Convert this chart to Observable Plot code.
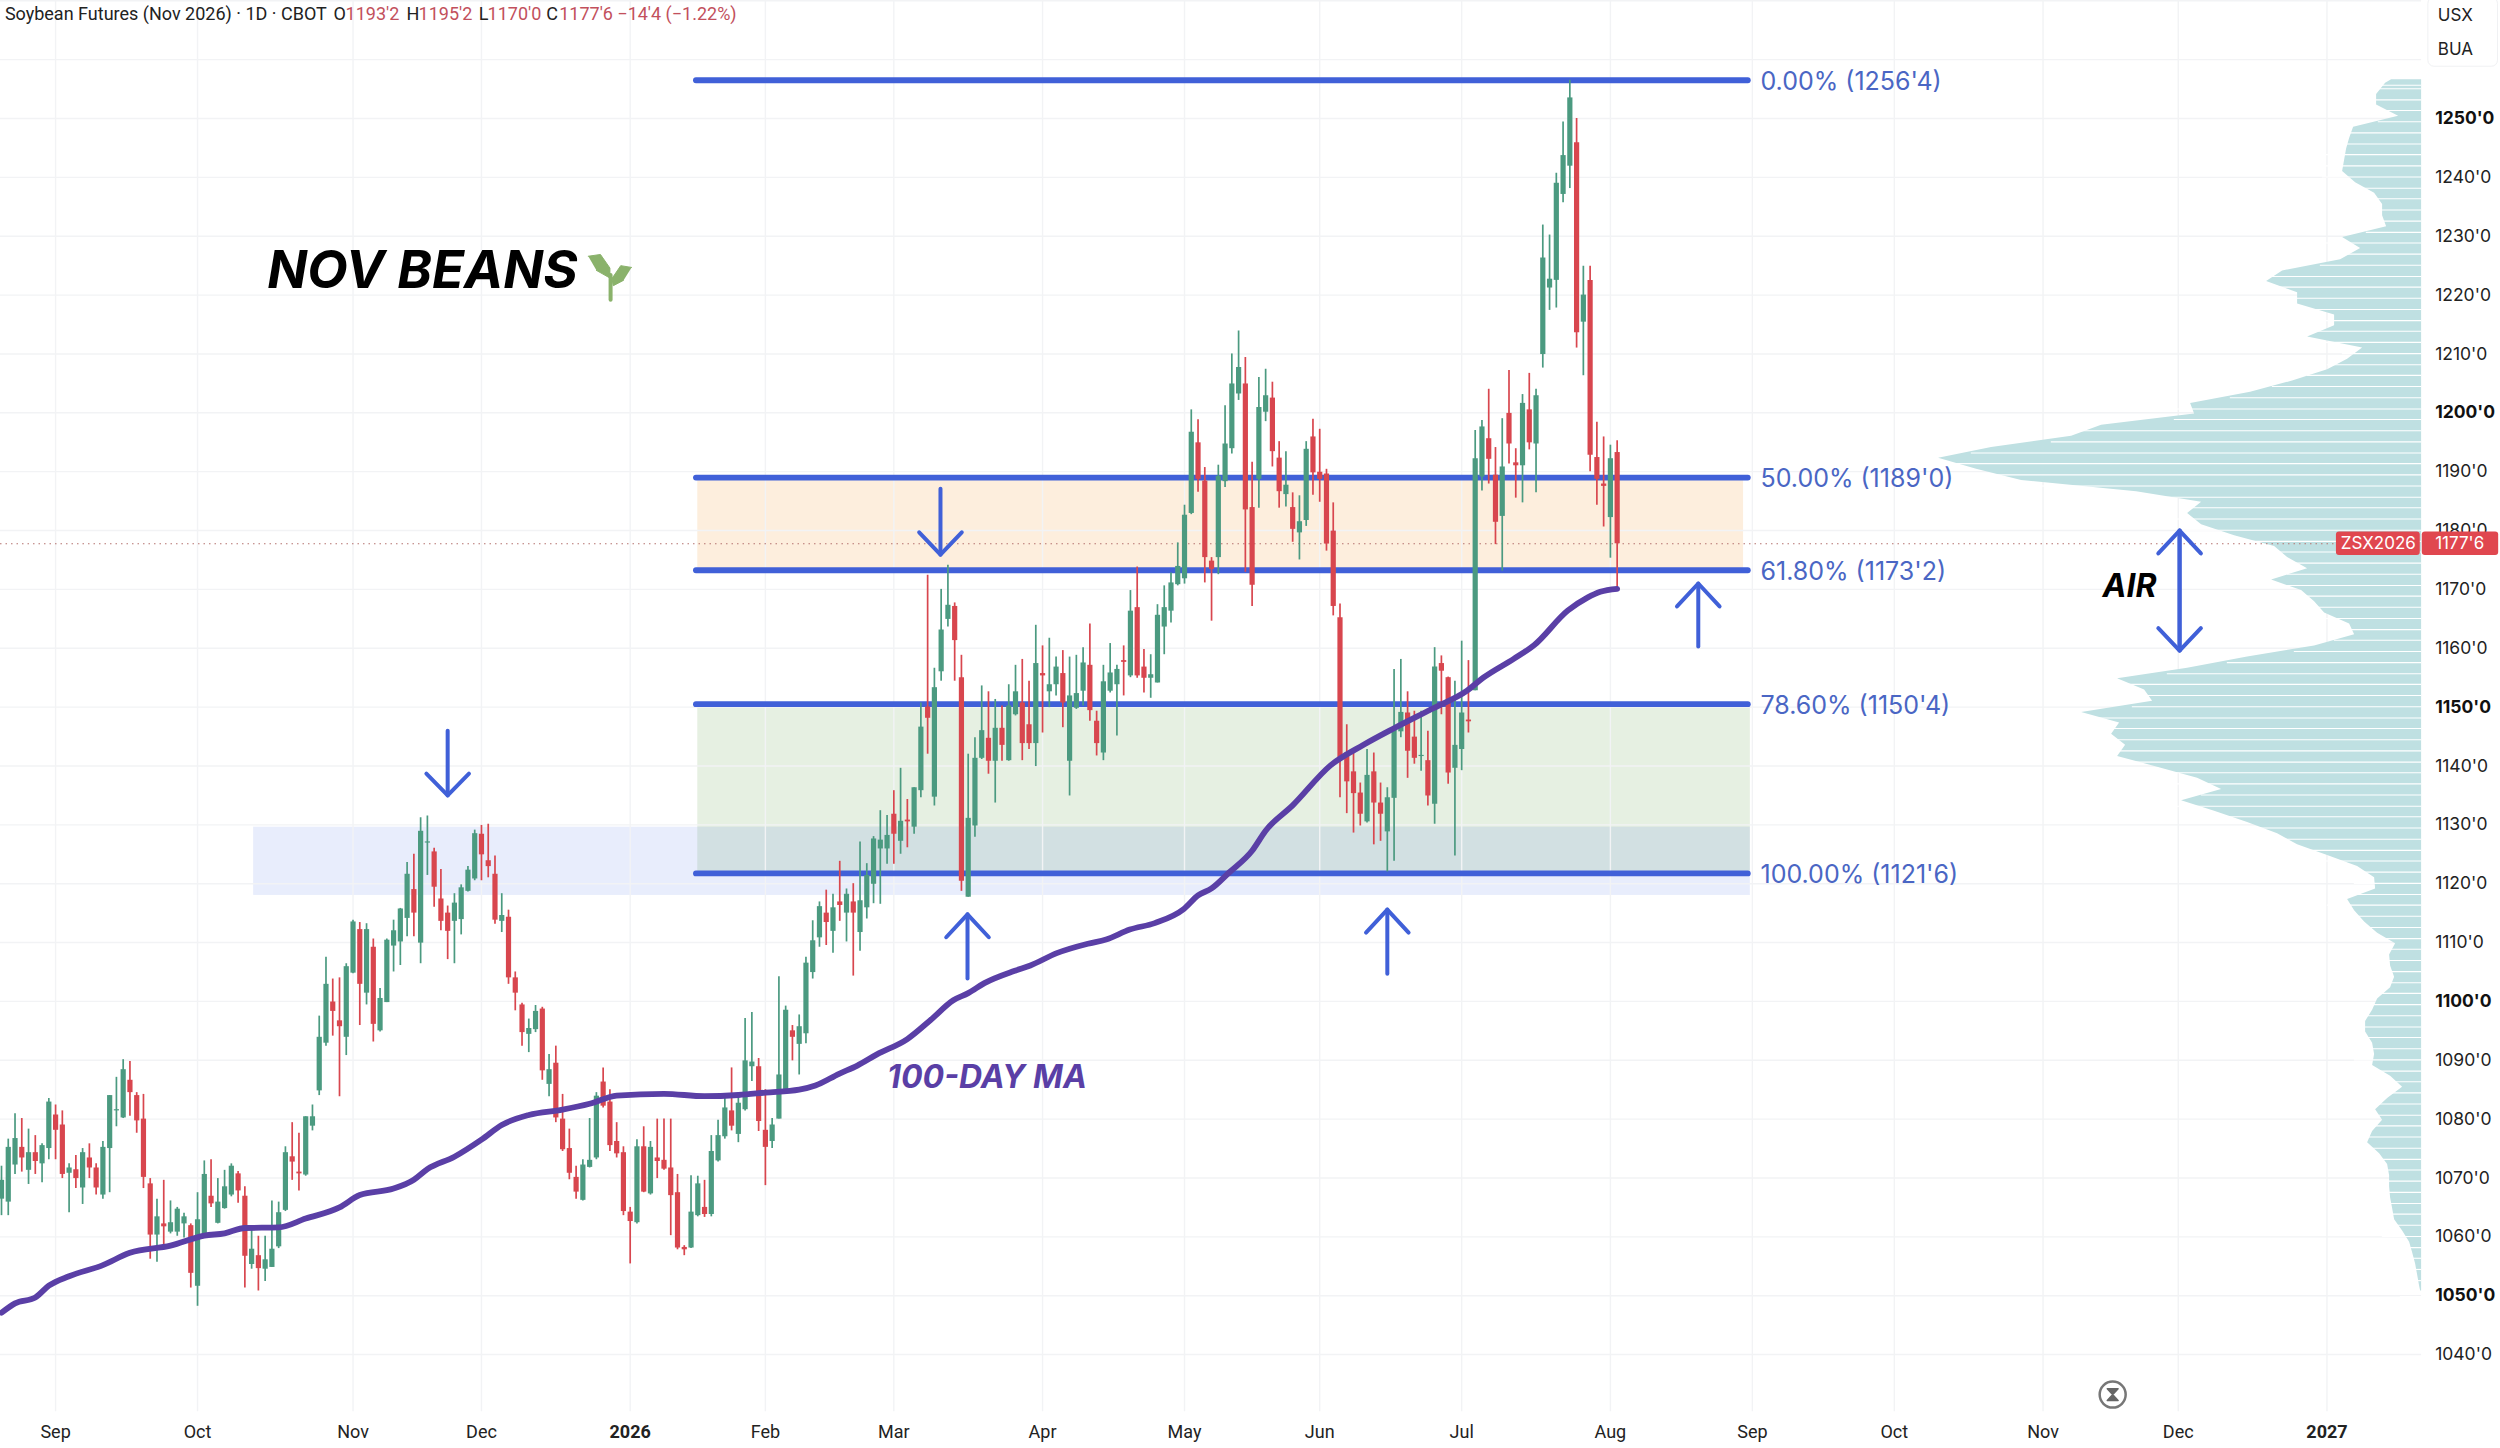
<!DOCTYPE html>
<html><head><meta charset="utf-8">
<script src="https://cdn.jsdelivr.net/npm/d3@7"></script>
<script src="https://cdn.jsdelivr.net/npm/@observablehq/plot@0.6"></script>
<style>html,body{margin:0;padding:0;background:#fff}svg{display:block}</style>
</head><body><div id="chart"></div>
<script>
// ---- candles (daily bars of Soybean Futures Nov 2026), oldest first ----
const direction =
 "GGGRGRGGRR"+"GRGRRGGGGR"+"RRRGRGGGRG"+"GRGGGRRGRG"+"GGGRRGGGGR"+
 "RGGRGRGGGG"+"GRGGRRRGGG"+"GRRRGRRRGG"+"RGRRRRGGGR"+"RRRRGRGRRR"+
 "RRGGRGGGRG"+"GGRRGGGRGG"+"GGRGRGRGGG"+"GGRGRGGRGG"+"GRRGGGRGRG"+
 "GRRGRGGRGG"+"GRRGGGRGRR"+"GGGGGGGRRR"+"GGGGRRGGRR"+"GRGGRRRRRR"+
 "RRGRRGGGRR"+"GRGRRGGRGG"+"RRGRRGRGGG"+"GGGRGRRRGR";
const bodyTops = [
1069.6,1075.2,1076.7,1075.2,1074.3,1074.3,1075.5,1082.9,1080.7,1079.0,
1071.7,1071.4,1074.3,1073.4,1071.7,1075.2,1084.0,1081.6,1088.4,1086.6,
1084.0,1080.0,1069.0,1063.4,1062.2,1062.4,1064.7,1063.4,1061.9,1062.9,
1070.6,1066.9,1065.9,1068.5,1072.0,1070.7,1066.9,1057.9,1056.8,1056.1,
1057.9,1064.1,1074.3,1073.6,1071.0,1080.4,1080.4,1093.9,1102.9,1099.9,
1096.7,1105.9,1113.5,1112.2,1112.2,1109.2,1100.5,1110.4,1112.0,1115.7,
1121.6,1119.0,1128.9,1127.1,1125.4,1117.4,1115.0,1116.7,1119.3,1122.3,
1128.5,1128.4,1123.9,1121.6,1114.6,1114.3,1104.0,1099.4,1095.4,1098.3,
1098.7,1088.4,1089.5,1080.0,1075.0,1070.1,1072.2,1073.0,1083.9,1086.3,
1082.9,1076.2,1074.3,1064.2,1075.3,1075.3,1075.2,1073.4,1073.0,1071.7,
1067.5,1058.2,1064.2,1069.0,1065.0,1074.5,1077.2,1081.9,1081.4,1082.7,
1089.9,1089.7,1088.9,1078.1,1079.0,1087.5,1098.5,1095.0,1095.7,1106.5,
1110.3,1116.1,1115.0,1115.9,1116.9,1118.2,1116.9,1117.1,1121.4,1127.6,
1127.4,1128.2,1131.8,1130.6,1130.8,1136.3,1146.6,1150.0,1153.3,1163.1,
1167.3,1167.1,1155.0,1131.1,1141.3,1146.0,1144.7,1146.4,1146.4,1150.2,
1152.6,1150.7,1147.0,1157.4,1155.7,1153.8,1156.8,1155.7,1151.9,1152.3,
1157.5,1157.1,1147.6,1154.3,1155.8,1156.4,1157.9,1166.3,1166.9,1156.8,
1155.5,1165.6,1166.9,1171.1,1173.9,1182.6,1196.7,1194.9,1188.4,1174.8,
1189.2,1194.7,1204.9,1207.7,1204.9,1183.9,1200.9,1202.9,1202.5,1192.3,
1187.7,1183.9,1181.5,1193.8,1195.9,1189.9,1189.6,1179.9,1165.2,1142.2,
1139.0,1135.4,1138.4,1139.0,1133.7,1134.6,1146.5,1149.1,1149.0,1144.9,
1141.8,1140.9,1156.8,1157.4,1155.0,1143.5,1149.0,1147.8,1192.2,1197.6,
1195.6,1189.4,1190.8,1199.9,1191.5,1201.6,1200.5,1202.9,1226.3,1222.7,
1239.0,1243.7,1253.5,1245.9,1220.0,1222.5,1192.4,1187.9,1192.2,1193.25];
const bodyBottoms = [
1066.4,1065.9,1072.2,1073.4,1071.3,1072.8,1072.4,1075.0,1078.1,1070.6,
1070.8,1069.9,1068.3,1071.7,1068.3,1067.1,1075.0,1081.4,1080.2,1084.5,
1079.7,1070.1,1060.3,1060.3,1061.7,1060.8,1060.8,1062.2,1053.8,1051.6,
1059.9,1065.6,1062.3,1064.8,1067.1,1067.8,1056.7,1055.3,1054.6,1054.5,
1054.8,1058.3,1064.5,1072.7,1070.7,1070.5,1078.8,1084.8,1092.9,1098.3,
1095.7,1093.9,1104.8,1102.9,1101.4,1096.1,1095.0,1099.8,1109.4,1110.1,
1114.1,1115.0,1109.9,1126.9,1119.4,1113.6,1111.9,1113.6,1113.9,1118.7,
1120.8,1124.9,1122.9,1113.8,1113.6,1104.0,1101.4,1094.7,1094.4,1095.2,
1088.2,1085.9,1080.2,1074.8,1070.8,1067.6,1066.2,1071.8,1073.4,1082.2,
1075.5,1074.1,1064.3,1062.6,1062.4,1067.6,1067.3,1072.8,1071.5,1067.0,
1058.1,1057.8,1058.1,1063.6,1063.8,1063.8,1072.9,1077.0,1078.8,1077.4,
1081.6,1088.9,1079.6,1075.2,1076.2,1080.0,1085.0,1093.9,1092.7,1094.5,
1104.9,1110.8,1113.4,1111.9,1116.3,1115.0,1115.0,1111.7,1115.9,1119.9,
1125.9,1125.9,1128.4,1127.2,1130.5,1129.6,1135.8,1148.1,1134.7,1156.0,
1164.9,1161.3,1120.4,1117.7,1129.8,1141.3,1140.8,1140.8,1143.5,1140.9,
1148.7,1143.8,1143.8,1143.8,1155.3,1152.6,1153.8,1150.7,1140.8,1149.8,
1152.7,1149.4,1143.8,1142.2,1152.7,1153.8,1157.6,1155.3,1155.3,1154.9,
1154.9,1154.1,1163.6,1166.3,1170.8,1171.8,1182.9,1188.7,1175.4,1173.4,
1175.4,1188.3,1193.9,1203.2,1183.5,1170.7,1188.7,1200.1,1193.4,1186.6,
1186.1,1180.2,1179.6,1181.7,1189.8,1188.7,1177.7,1167.1,1141.4,1137.3,
1135.3,1131.8,1130.5,1133.7,1131.8,1128.8,1134.5,1145.8,1142.5,1141.3,
1141.6,1134.9,1133.5,1156.1,1138.8,1139.6,1142.8,1147.5,1152.8,1189.1,
1192.1,1181.4,1182.4,1194.7,1191.0,1191.0,1194.9,1194.7,1209.9,1221.2,
1222.5,1237.1,1241.9,1213.6,1215.4,1192.8,1188.7,1187.5,1182.2,1177.75];
const highs = [
1072.0,1076.6,1080.9,1080.1,1078.3,1077.2,1075.8,1083.5,1082.4,1081.4,
1072.4,1073.8,1075.0,1075.8,1072.4,1076.2,1084.0,1087.1,1090.1,1089.8,
1084.5,1084.2,1069.9,1066.4,1069.6,1066.1,1065.0,1064.0,1062.2,1067.5,
1072.9,1073.1,1069.9,1071.3,1072.4,1071.1,1068.5,1061.9,1060.1,1060.1,
1066.1,1065.9,1075.3,1079.4,1077.6,1080.4,1082.4,1097.5,1107.5,1103.8,
1104.0,1106.4,1113.8,1113.4,1113.2,1110.6,1102.2,1110.6,1113.8,1115.8,
1123.6,1125.0,1131.2,1131.5,1126.0,1122.4,1116.2,1118.3,1119.8,1122.9,
1129.1,1129.9,1130.1,1124.7,1118.3,1115.5,1105.0,1099.7,1097.0,1099.3,
1099.0,1091.0,1092.4,1084.2,1078.3,1072.0,1073.1,1080.1,1084.5,1088.7,
1085.0,1079.4,1075.3,1065.0,1076.5,1078.7,1076.2,1080.0,1080.0,1080.0,
1070.6,1058.5,1070.4,1070.3,1069.6,1077.2,1079.8,1084.0,1088.7,1084.5,
1097.1,1098.1,1090.3,1085.0,1080.1,1104.2,1099.2,1095.9,1097.7,1107.5,
1113.7,1116.9,1118.9,1118.2,1123.8,1119.1,1120.0,1127.1,1123.4,1128.0,
1132.4,1131.6,1135.8,1139.6,1134.3,1136.3,1150.7,1172.4,1156.6,1170.0,
1174.1,1167.7,1158.8,1142.0,1144.8,1153.6,1152.6,1151.3,1150.2,1153.8,
1157.1,1158.1,1154.4,1163.9,1160.4,1161.7,1158.5,1159.6,1158.5,1158.8,
1160.1,1164.1,1149.3,1157.1,1160.8,1157.1,1160.4,1169.8,1173.8,1159.8,
1158.9,1167.4,1170.6,1172.8,1177.9,1184.3,1200.5,1198.8,1190.7,1175.4,
1191.1,1201.2,1210.0,1213.9,1209.4,1191.6,1206.0,1207.4,1205.2,1195.1,
1193.4,1186.4,1185.9,1195.1,1198.9,1197.2,1190.4,1184.7,1167.5,1147.0,
1142.8,1137.1,1142.8,1142.2,1137.1,1136.3,1156.4,1158.1,1152.6,1149.3,
1149.3,1145.9,1160.1,1158.7,1155.1,1154.4,1161.2,1157.9,1197.0,1198.7,
1204.0,1194.1,1199.0,1207.2,1193.9,1203.1,1206.7,1204.0,1231.9,1230.2,
1240.7,1249.4,1256.5,1250.0,1224.9,1224.9,1198.4,1195.9,1194.5,1195.25];
const lows = [
1063.6,1063.6,1070.6,1071.0,1068.9,1070.6,1069.2,1073.1,1073.1,1069.9,
1064.1,1068.2,1065.5,1069.9,1067.1,1066.4,1067.5,1078.7,1080.1,1080.5,
1077.6,1068.2,1056.2,1055.7,1058.7,1060.5,1060.1,1059.8,1051.3,1048.2,
1059.8,1065.0,1062.2,1064.7,1066.8,1065.7,1051.3,1054.5,1050.8,1052.4,
1054.8,1058.0,1064.3,1069.6,1067.8,1070.3,1078.0,1084.0,1092.4,1094.1,
1083.8,1090.8,1104.7,1095.9,1099.4,1093.1,1094.8,1099.8,1105.0,1106.1,
1111.0,1111.0,1106.4,1121.4,1116.0,1112.0,1107.1,1106.4,1111.3,1118.6,
1120.5,1120.5,1121.0,1113.1,1111.7,1102.9,1098.4,1092.4,1091.3,1094.7,
1086.6,1083.8,1079.4,1074.5,1069.7,1066.4,1066.1,1071.7,1073.1,1081.9,
1074.5,1073.4,1063.6,1055.4,1062.2,1067.5,1067.1,1069.9,1071.3,1060.2,
1057.8,1056.8,1058.0,1063.4,1063.3,1063.4,1072.7,1076.6,1078.0,1076.0,
1081.4,1086.4,1077.9,1068.7,1075.0,1080.0,1084.6,1089.9,1087.5,1092.8,
1103.8,1109.2,1109.5,1108.2,1113.6,1110.1,1104.3,1108.5,1114.0,1116.6,
1116.5,1123.3,1123.3,1125.0,1126.1,1128.4,1134.6,1142.0,1133.2,1154.4,
1163.6,1154.4,1118.7,1117.7,1127.9,1141.1,1138.6,1133.7,1140.8,1140.8,
1148.5,1140.9,1142.8,1139.9,1145.6,1149.9,1151.9,1146.5,1134.9,1149.6,
1150.2,1147.6,1141.7,1140.9,1152.4,1145.1,1151.9,1155.0,1154.9,1152.4,
1151.5,1154.1,1158.9,1164.3,1170.6,1170.9,1182.7,1186.5,1171.1,1164.6,
1172.5,1187.3,1193.0,1202.1,1172.9,1167.1,1183.8,1198.5,1190.8,1183.8,
1184.0,1178.0,1175.0,1180.7,1186.0,1184.8,1176.5,1165.5,1134.6,1131.9,
1128.6,1129.8,1130.3,1126.6,1127.2,1122.0,1123.8,1144.8,1137.9,1140.3,
1139.1,1133.2,1130.1,1148.7,1136.9,1124.7,1139.2,1145.6,1152.8,1186.7,
1187.9,1177.6,1173.1,1191.3,1185.5,1184.7,1193.7,1186.4,1207.6,1217.4,
1217.8,1235.7,1238.1,1211.0,1206.3,1190.0,1184.3,1180.6,1175.3,1170.0];

// ---- 100-day moving average, read as [bar, price] ----
const maBars = [0,2,5,7,10,15,19,25,30,33,36,41,45,50,53,58,61,63,67,71,74,78,83,87,91,98,104,109,113,118,
 120.4,123.9,126.6,129.5,134,137.4,140.8,143,145.4,149.9,152.2,156.1,160.7,163.4,166.9,170.6,174.9,177,179,181.6,
 185,187,191,196.6,201.5,206,211.8,216.8,219.2,223.7,226.7,231.7,234.6,236.5,239];
const maPrices = [1047.1,1048.7,1049.7,1051.7,1053.3,1055.2,1057.3,1058.5,1060.2,1060.6,1061.5,1061.6,1063.1,1065.0,1067.1,1068.2,1069.7,1071.5,1073.6,1076.5,1079.0,1080.7,1081.6,1082.6,1084.0,1084.3,1083.9,1084.1,1084.5,1085.0,
 1085.7,1087.7,1089.1,1091.0,1093.6,1096.8,1100.2,1101.4,1103.1,1105.2,1106.1,1108.2,1109.8,1110.5,1112.2,1113.3,1115.7,1118.0,1119.2,1121.9,
 1125.6,1129.0,1133.3,1140.1,1143.6,1146.4,1149.8,1152.8,1155.0,1158.2,1160.5,1166.4,1168.6,1169.6,1170.1];

// ---- volume profile ----
const profilePrices = [1256.6,1256,1254.1,1252.3,1250.4,1248.5,1246.6,1244.8,1242.9,1241,1239.1,1237.3,1235.4,1233.5,1231.6,1229.8,1227.9,1226,1224.1,1222.3,1220.4,1218.5,1216.6,1214.8,1212.9,1211,1209.1,1207.3,1205.4,1203.5,1201.6,1199.8,1197.9,1196,1194.1,1192.3,1190.4,1188.5,1186.6,1184.8,1182.9,1181,1179.1,1177.3,1175.4,1173.5,1171.6,1169.8,1167.9,1166,1164.1,1162.3,1160.4,1158.5,1156.6,1154.8,1152.9,1151,1149.1,1147.3,1145.4,1143.5,1141.6,1139.8,1137.9,1136,1134.1,1132.3,1130.4,1128.5,1126.6,1124.8,1122.9,1121,1119.1,1117.3,1115.4,1113.5,1111.6,1109.8,1107.9,1106,1104.1,1102.3,1100.4,1098.5,1096.6,1094.8,1092.9,1091,1089.1,1087.3,1085.4,1083.5,1081.6,1079.8,1077.9,1076,1074.1,1072.3,1070.4,1068.5,1066.6,1064.8,1062.9,1061,1059.1,1057.3,1055.4,1053.5,1051.6,1050.8];
const profileVolumes = [30,36,45,45,23,68,72,75,77,79,66,47,39,39,35,79,61,81,139,155,124,124,87,87,114,59,74,94,129,171,231,227,320,350,430,483,445,400,285,220,234,220,187,147,134,114,150,120,107,97,72,67,107,174,234,304,277,269,340,302,310,296,304,264,224,200,240,207,174,144,124,94,64,47,46,74,67,57,44,26,32,31,27,31,44,49,56,56,49,47,49,31,19,34,46,39,49,54,42,34,32,32,31,29,27,19,12,9,6,4,2,1];
const volumePerBar = 6.76; // volume units per bar of width
const profileEdge = 358;

// ---- Fibonacci levels ----
const fibPrices = [1256.5,1189,1173.25,1150.5,1121.75];
const fibLabels = ["0.00% (1256'4)","50.00% (1189'0)","61.80% (1173'2)","78.60% (1150'4)","100.00% (1121'6)"];

// ---- axes ----
const monthBars = [8,29,52,71,93,113,132,154,175,195,216,238,259,280,302,322,344];
const monthLabels = ["Sep","Oct","Nov","Dec","2026","Feb","Mar","Apr","May","Jun","Jul","Aug","Sep","Oct","Nov","Dec","2027"];
const priceTicks = [1250,1240,1230,1220,1210,1200,1190,1180,1170,1160,1150,1140,1130,1120,1110,1100,1090,1080,1070,1060,1050,1040];
const priceTickLabels = priceTicks.map(p=>p+"'0");
const lastPrice = 1177.75;

// ---- arrows: [bar, tip price, tail price, wing price] ----
const arrows = [[66,1135.0,1146.0,1138.7],[138.9,1175.9,1187.1,1179.7],[142.9,1114.8,1103.9,1110.9],[205,1115.6,1104.7,1111.7],[251,1171,1160.3,1167.1],[322.2,1180,1159.6,1176.1],[322.2,1159.6,1180,1163.4]];

// ---- colours and fonts ----
const GREEN="#4b9a80", RED="#d8464e", BLUE="#4060d8", PURPLE="#5a3fa6", GRID="#f2f3f5";
const UI="Roboto, sans-serif", BOLD="Inter, sans-serif";

const bars = direction.split("").map((d,i)=>({i,d,top:bodyTops[i],bot:bodyBottoms[i],hi:highs[i],lo:lows[i]}));
const ups = bars.filter(b=>b.d==="G"), downs = bars.filter(b=>b.d==="R");
const ma = maBars.map((b,i)=>({b,p:maPrices[i]}));
const profile = profilePrices.map((p,i)=>({p,v:profileVolumes[i]}));
const fib = fibPrices.map((p,i)=>({p,label:fibLabels[i]}));
const months = monthBars.map((b,i)=>({b,label:monthLabels[i]}));
const ticks = priceTicks.map((p,i)=>({p,label:priceTickLabels[i]}));
const arrowPaths = arrows.flatMap(([b,tip,tail,wing],k)=>[
  {k:k+"s",x:b,y:tail},{k:k+"s",x:b,y:tip},
  {k:k+"w",x:b-3.15,y:wing},{k:k+"w",x:b,y:tip},{k:k+"w",x:b+3.15,y:wing}]);

const legendY = 1267.8;
const legendParts = [
  [0.5,"Soybean Futures (Nov 2026) · 1D · CBOT","#222"],[49.1,"O","#222"],[50.9,"1193'2","#c2505c"],
  [59.9,"H","#222"],[61.7,"1195'2","#c2505c"],[70.6,"L","#222"],[71.9,"1170'0","#c2505c"],
  [80.6,"C","#222"],[82.5,"1177'6","#c2505c"],[91.1,"−14'4 (−1.22%)","#c2505c"]];
const legend = legendParts.map(([x,text,fill])=>({x,text,fill}));

const leafLeft = [{x:86.8,y:1226.6},{x:88.6,y:1226.9},{x:90.0,y:1224.6},{x:90.0,y:1222.9},{x:88.0,y:1224.2}];
const leafRight = [{x:93.2,y:1224.7},{x:91.6,y:1225.0},{x:90.3,y:1222.8},{x:90.5,y:1221.6},{x:92.0,y:1222.5}];
const stem = [{x:90.1,y:1219.2},{x:90.1,y:1223.4}];
const isYear = d => /^20/.test(d.label), isMajor = d => d.p % 50 === 0;

const chart = Plot.plot({
  width:2500, height:1448, margin:0, style:{background:"#fff",fontFamily:UI},
  x:{domain:[-0.148,369.67],range:[0,2500],axis:null},
  y:{domain:[1024.04,1270.05],range:[1448,0],axis:null},
  marks:[
    // zones
    Plot.rect([0],{x1:103,x2:257.7,y1:1173.25,y2:1189,fill:"#fdeedd"}),
    Plot.rect([0],{x1:103,x2:258.7,y1:1121.75,y2:1150.5,fill:"#e6f0e2"}),
    Plot.rect([0],{x1:37.3,x2:258.7,y1:1118,y2:1129.6,fill:"#4a72e6",fillOpacity:0.13}),
    // grid
    Plot.ruleY(d3.range(1040,1271,10),{y:d=>d,x1:-0.148,x2:358,stroke:GRID,strokeWidth:1.4}),
    Plot.ruleX(months,{x:"b",y1:1030.3,y2:1270.05,stroke:GRID,strokeWidth:1.4}),
    // profile
    Plot.areaX(profile,{y:"p",x1:d=>profileEdge-d.v/volumePerBar,x2:profileEdge,fill:"#bfe0e2"}),
    Plot.ruleY(profile,{y:d=>d.p-0.94,x1:d=>profileEdge-d.v/volumePerBar-3,x2:profileEdge,stroke:"#fff",strokeWidth:1.1}),
    // last price line
    Plot.ruleY([lastPrice],{x1:-0.148,x2:346,stroke:"#b5736f",strokeWidth:1.2,strokeDasharray:"1.5 4"}),
    // fib lines
    Plot.ruleY(fib,{y:"p",x1:102.8,x2:258.4,stroke:BLUE,strokeWidth:5.8,strokeLinecap:"round"}),
    Plot.text(fib,{x:260.2,y:"p",dy:1.5,text:"label",fill:"#4a66c4",fontSize:25,fontFamily:BOLD,textAnchor:"start"}),
    // candles
    Plot.ruleX(ups,{x:"i",y1:"lo",y2:"hi",stroke:GREEN,strokeWidth:1.7}),
    Plot.ruleX(downs,{x:"i",y1:"lo",y2:"hi",stroke:RED,strokeWidth:1.7}),
    Plot.ruleX(ups,{x:"i",y1:"bot",y2:"top",stroke:GREEN,strokeWidth:5.2}),
    Plot.ruleX(downs,{x:"i",y1:"bot",y2:"top",stroke:RED,strokeWidth:5.2}),
    // moving average
    Plot.line(ma,{x:"b",y:"p",stroke:PURPLE,strokeWidth:5.8,curve:"monotone-x",strokeLinecap:"round",strokeLinejoin:"round"}),
    // arrows
    Plot.line(arrowPaths,{x:"x",y:"y",z:"k",stroke:BLUE,strokeWidth:4,strokeLinecap:"round",strokeLinejoin:"round"}),
    // annotations
    Plot.text(["NOV BEANS"],{x:39.3,y:1224,text:d=>d,fontSize:52.5,fontWeight:700,fontStyle:"italic",fontFamily:BOLD,fill:"#000",textAnchor:"start"}),
    Plot.line(stem,{x:"x",y:"y",stroke:"#8ab26b",strokeWidth:4}),
    Plot.line(leafLeft,{x:"x",y:"y",fill:"#8ab26b",stroke:"#8ab26b",strokeWidth:1}),
    Plot.line(leafRight,{x:"x",y:"y",fill:"#8ab26b",stroke:"#8ab26b",strokeWidth:1}),
    Plot.text(["100-DAY MA"],{x:131,y:1087,text:d=>d,fontSize:32,fontWeight:700,fontStyle:"italic",fontFamily:BOLD,fill:PURPLE,textAnchor:"start"}),
    Plot.text(["AIR"],{x:310.8,y:1170.5,text:d=>d,fontSize:32,fontWeight:700,fontStyle:"italic",fontFamily:BOLD,fill:"#000",textAnchor:"start"}),
    // legend
    Plot.text(legend,{x:"x",y:legendY,text:"text",fill:"fill",fontSize:18,fontFamily:UI,textAnchor:"start"}),
    // time axis
    Plot.text(months.filter(d=>!isYear(d)),{x:"b",y:1026.8,text:"label",fontSize:18,fontFamily:UI,fill:"#222"}),
    Plot.text(months.filter(isYear),{x:"b",y:1026.8,text:"label",fontSize:18,fontWeight:700,fontFamily:UI,fill:"#222"}),
    // price axis
    Plot.rect([0],{x1:358.2,x2:369.67,y1:1024.04,y2:1270.05,fill:"#fff"}),
    Plot.rect([0],{x1:359,x2:369.3,y1:1258.8,y2:1270.5,fill:"#fff",stroke:"#f0f1f3",r:6}),
    Plot.text(["USX"],{x:360.4,y:1267.5,text:d=>d,fontSize:17,fontFamily:BOLD,fill:"#222",textAnchor:"start"}),
    Plot.text(["BUA"],{x:360.4,y:1261.7,text:d=>d,fontSize:17,fontFamily:BOLD,fill:"#222",textAnchor:"start"}),
    Plot.text(ticks.filter(d=>!isMajor(d)),{x:360,y:"p",text:"label",fontSize:17.5,fontFamily:BOLD,fill:"#222",textAnchor:"start"}),
    Plot.text(ticks.filter(isMajor),{x:360,y:"p",text:"label",fontSize:17.5,fontWeight:700,fontFamily:BOLD,fill:"#111",textAnchor:"start"}),
    // last-price tags
    Plot.rect([0],{x1:345.4,x2:357.8,y1:lastPrice-2,y2:lastPrice+2,fill:"#e0474f",r:3}),
    Plot.rect([0],{x1:358.1,x2:369.4,y1:lastPrice-2,y2:lastPrice+2,fill:"#e0474f",r:3}),
    Plot.text(["ZSX2026"],{x:351.6,y:lastPrice,text:d=>d,fontSize:17,fontFamily:BOLD,fill:"#fff"}),
    Plot.text(["1177'6"],{x:360,y:lastPrice,text:d=>d,fontSize:17,fontFamily:BOLD,fill:"#fff",textAnchor:"start"}),
    // hourglass badge
    Plot.dot([0],{x:312.3,y:1033.2,r:13,stroke:"#777",strokeWidth:2.5,fill:"#fff"}),
    Plot.line([{x:311.5,y:1034.2},{x:313.1,y:1034.2},{x:311.5,y:1032.2},{x:313.1,y:1032.2},{x:311.5,y:1034.2}],{x:"x",y:"y",fill:"#666",stroke:"#666",strokeWidth:1.5})
  ]
});
document.getElementById("chart").append(chart);
</script></body></html>
